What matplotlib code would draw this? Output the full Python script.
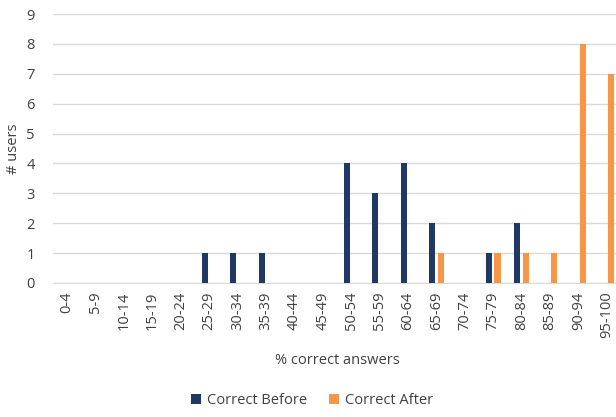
import numpy as np
import matplotlib
matplotlib.use("Agg")
import matplotlib.pyplot as plt

categories = ["0-4", "5-9", "10-14", "15-19", "20-24", "25-29", "30-34", "35-39",
              "40-44", "45-49", "50-54", "55-59", "60-64", "65-69", "70-74", "75-79",
              "80-84", "85-89", "90-94", "95-100"]
before = [0, 0, 0, 0, 0, 1, 1, 1, 0, 0, 4, 3, 4, 2, 0, 1, 2, 0, 0, 0]
after = [0, 0, 0, 0, 0, 0, 0, 0, 0, 0, 0, 0, 0, 1, 0, 1, 1, 1, 8, 7]

plt.rcParams['font.family'] = ['Open Sans', 'DejaVu Sans']
fs = 10.5
txt = "#404040"

fig = plt.figure(figsize=(6.16, 4.17), dpi=100)
ax = fig.add_axes([53 / 616, 1 - 283 / 417, 568 / 616, 269 / 417])

x = np.arange(len(categories))
w = 0.22
ax.bar(x - 0.15, before, width=w, color="#1F3864", label="Correct Before", zorder=3)
ax.bar(x + 0.15, after, width=w, color="#F79646", label="Correct After", zorder=3)

ax.set_xlim(-0.5, len(categories) - 0.5)
ax.set_ylim(0, 9)
ax.set_yticks(range(10))
ax.yaxis.grid(True, color="#D9D9D9", linewidth=1, zorder=0)
ax.set_xticks(x)
ax.set_xticklabels(categories, rotation=90, fontsize=fs, color=txt)
ax.tick_params(axis="y", labelsize=fs, labelcolor=txt, length=0, pad=13)
ax.tick_params(axis="x", length=0, pad=6)
for s in ["top", "right", "left"]:
    ax.spines[s].set_visible(False)
ax.spines["bottom"].set_color("#D9D9D9")

ax.set_ylabel("# users", fontsize=fs, color=txt, labelpad=4)
ax.set_xlabel("% correct answers", fontsize=fs, color=txt, labelpad=11)

fig.legend(loc="lower center", bbox_to_anchor=(312 / 616, -0.01), ncol=2,
           frameon=False, fontsize=fs, handlelength=0.7, handleheight=0.7,
           columnspacing=1.5, handletextpad=0.4, labelcolor=txt)

fig.savefig("out.png", dpi=100)
